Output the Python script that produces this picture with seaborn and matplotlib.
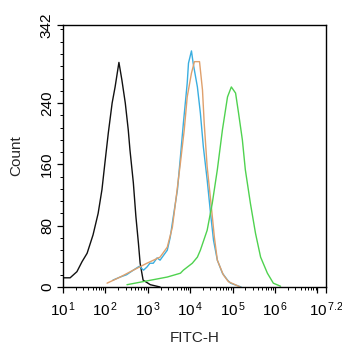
import matplotlib
matplotlib.use("Agg")
import matplotlib.pyplot as plt
import matplotlib.ticker as mticker
import seaborn as sns
import pandas as pd

# log10(FITC-H) positions and counts
black_lx = [1.00, 1.17, 1.33, 1.45, 1.57, 1.71, 1.83, 1.92, 1.99, 2.07, 2.16, 2.23, 2.32,
            2.39, 2.47, 2.54, 2.58, 2.66, 2.72, 2.78, 2.82, 2.89, 3.06, 3.29]
black_ct = [12, 12, 20, 33, 44, 68, 96, 127, 162, 201, 240, 261, 293,
            270, 240, 205, 179, 136, 92, 57, 31, 9, 3, 0]

blue_lx = [2.18, 2.35, 2.50, 2.66, 2.80, 2.90, 2.98, 3.05, 3.13, 3.22, 3.29, 3.46, 3.53, 3.60,
           3.70, 3.77, 3.84, 3.93, 3.96, 4.03, 4.07, 4.17, 4.24, 4.31, 4.40, 4.48, 4.55,
           4.64, 4.76, 4.88, 4.95, 5.20]
blue_ct = [9, 13, 16, 22, 27, 22, 26, 31, 31, 38, 35, 48, 65, 91,
           127, 170, 214, 266, 292, 308, 292, 261, 227, 183, 140, 96, 61,
           35, 18, 9, 5, 0]

orange_lx = [2.04, 2.35, 2.66, 2.98, 3.29, 3.46, 3.58, 3.67, 3.77, 3.86, 3.93, 4.03, 4.10,
             4.22, 4.29, 4.33, 4.40, 4.50, 4.57, 4.64, 4.78, 4.90, 5.18]
orange_ct = [5, 13, 22, 31, 39, 52, 78, 117, 162, 205, 248, 279, 294,
             294, 257, 214, 157, 104, 65, 35, 16, 7, 0]

green_lx = [2.51, 2.89, 3.46, 3.77, 3.84, 4.05, 4.17, 4.24, 4.40, 4.52, 4.64, 4.76, 4.88,
            4.97, 5.07, 5.14, 5.23, 5.30, 5.42, 5.54, 5.66, 5.82, 5.96, 6.13]
green_ct = [3, 7, 13, 18, 22, 31, 39, 48, 74, 109, 153, 205, 248,
            261, 253, 227, 192, 153, 109, 70, 39, 18, 5, 1]

series = [
    (black_lx, black_ct, "#111111"),
    (blue_lx, blue_ct, "#3aaee0"),
    (orange_lx, orange_ct, "#dfa06c"),
    (green_lx, green_ct, "#4fd24f"),
]

y_ticks = [0, 80, 160, 240, 342]
x_decades = [1, 2, 3, 4, 5, 6, 7]
x_labels = ["$10^{\\,1}$", "$10^{\\,2}$", "$10^{\\,3}$", "$10^{\\,4}$", "$10^{\\,5}$", "$10^{\\,6}$", ""]

sns.set_style("ticks")
plt.rcParams["font.family"] = ["Liberation Sans", "DejaVu Sans"]
plt.rcParams["mathtext.fontset"] = "custom"
plt.rcParams["mathtext.rm"] = "Liberation Sans"
plt.rcParams["mathtext.it"] = "Liberation Sans"

fig = plt.figure(figsize=(3.42, 3.5), dpi=100)
ax = fig.add_axes([0.184, 0.18, 0.769, 0.749])

for lx, ct, col in series:
    df = pd.DataFrame({"x": [10 ** v for v in lx], "y": ct})
    sns.lineplot(data=df, x="x", y="y", ax=ax, color=col, linewidth=1.0,
                 sort=False, estimator=None)

ax.set_xscale("log")
ax.set_xlim(10 ** 1, 10 ** 7.2)
ax.set_ylim(0, 342)

ax.set_xticks([10 ** d for d in x_decades] + [10 ** 7.2])
ax.set_xticklabels(x_labels + ["$10^{\\,7.2}$"])
ax.xaxis.set_minor_locator(mticker.LogLocator(base=10, subs=range(2, 10), numticks=20))
ax.xaxis.set_minor_formatter(mticker.NullFormatter())

ax.set_yticks(y_ticks)
ax.set_yticklabels([str(v) for v in y_ticks], rotation=90, va="center")
ax.yaxis.set_minor_locator(mticker.MultipleLocator(16))

for s in ax.spines.values():
    s.set_linewidth(1.0)
    s.set_color("black")
ax.tick_params(which="major", length=4.5, width=0.9, labelsize=11, colors="black")
ax.tick_params(axis="x", which="major", pad=5)
ax.tick_params(axis="y", which="major", pad=2)
ax.tick_params(which="minor", length=2.5, width=0.7, colors="black")

ax.set_xlabel("FITC-H", fontsize=11, labelpad=9)
ax.set_ylabel("Count", fontsize=11, labelpad=12)

fig.savefig("out.png", dpi=100)
